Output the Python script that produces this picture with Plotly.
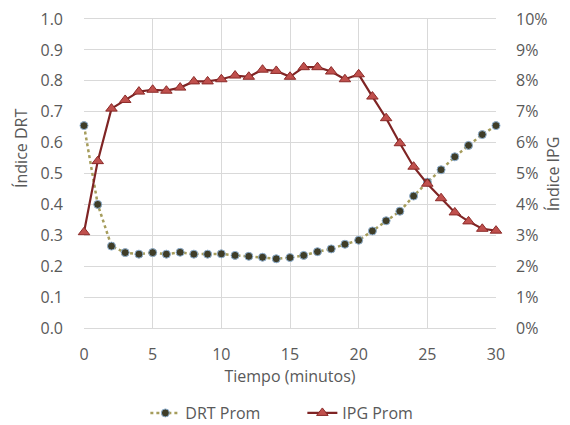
import plotly.graph_objects as go

tiempo = list(range(0, 31))
drt_prom = [0.655, 0.400, 0.265, 0.244, 0.239, 0.244, 0.239, 0.245, 0.239, 0.239,
            0.240, 0.235, 0.232, 0.229, 0.224, 0.228, 0.235, 0.247, 0.256, 0.271,
            0.284, 0.314, 0.347, 0.378, 0.427, 0.472, 0.512, 0.554, 0.591, 0.626, 0.655]
ipg_prom = [0.031, 0.054, 0.071, 0.0738, 0.0765, 0.0771, 0.0768, 0.0778, 0.0798, 0.0798,
            0.0805, 0.0817, 0.0813, 0.0836, 0.0832, 0.0813, 0.0844, 0.0844, 0.0830, 0.0805,
            0.0821, 0.0749, 0.0679, 0.0598, 0.0522, 0.0467, 0.0420, 0.0374, 0.0345, 0.0321, 0.0315]

FONT = "Open Sans"
TXT = "#595959"
GRID = "#d9d9d9"

fig = go.Figure()
fig.add_trace(go.Scatter(
    x=tiempo, y=drt_prom, name="DRT Prom", mode="lines+markers",
    line=dict(color="#a69d5c", width=2.5, dash="dot"),
    marker=dict(symbol="circle", size=8, color="#3f3d28",
                line=dict(color="#8fb0d0", width=1)),
    cliponaxis=False, yaxis="y"))
fig.add_trace(go.Scatter(
    x=tiempo, y=ipg_prom, name="IPG Prom", mode="lines+markers",
    line=dict(color="#7f2424", width=2.2),
    marker=dict(symbol="triangle-up", size=10, color="#c0504d",
                line=dict(color="#8b2a28", width=1)),
    cliponaxis=False, yaxis="y2"))

fig.update_layout(
    width=570, height=425,
    margin=dict(l=76, r=82, t=11, b=105),
    paper_bgcolor="white", plot_bgcolor="white",
    font=dict(family=FONT, color=TXT, size=16),
    showlegend=True,
    legend=dict(orientation="h", xref="paper", x=0.53, xanchor="center",
                yref="container", y=0.047, yanchor="middle",
                font=dict(size=16, color=TXT), tracegroupgap=0,
                entrywidth=112, entrywidthmode="pixels"),
    xaxis=dict(range=[0, 30], dtick=5, tick0=0, showgrid=True, gridcolor=GRID,
               zeroline=False, showline=True, linecolor=GRID, mirror=True,
               ticks="", automargin=False, ticklabelstandoff=12, ticklabeloverflow="allow",
               title=dict(text="Tiempo (minutos)", font=dict(size=16, color=TXT), standoff=0),
               tickfont=dict(size=16, color=TXT)),
    yaxis=dict(range=[0, 1.0], dtick=0.1, tickformat=".1f", showgrid=True, gridcolor=GRID,
               zeroline=False, showline=False, ticks="", automargin=False,
               ticklabelstandoff=20, ticklabeloverflow="allow",
               tickfont=dict(size=16, color=TXT)),
    yaxis2=dict(range=[0, 0.10], dtick=0.01, tickformat=".0%", overlaying="y", side="right",
                showgrid=False, zeroline=False, showline=False, ticks="", automargin=False,
                ticklabelstandoff=19, ticklabeloverflow="allow",
                tickfont=dict(size=16, color=TXT)),
    annotations=[
        dict(text="Índice DRT", xref="paper", yref="paper", x=-0.153, y=0.5825,
             xanchor="center", yanchor="middle", textangle=-90, showarrow=False,
             font=dict(size=16, color=TXT)),
        dict(text="Índice IPG", xref="paper", yref="paper", x=1.138, y=0.5,
             xanchor="center", yanchor="middle", textangle=-90, showarrow=False,
             font=dict(size=16, color=TXT)),
    ],
)

fig.write_html("out.html")
